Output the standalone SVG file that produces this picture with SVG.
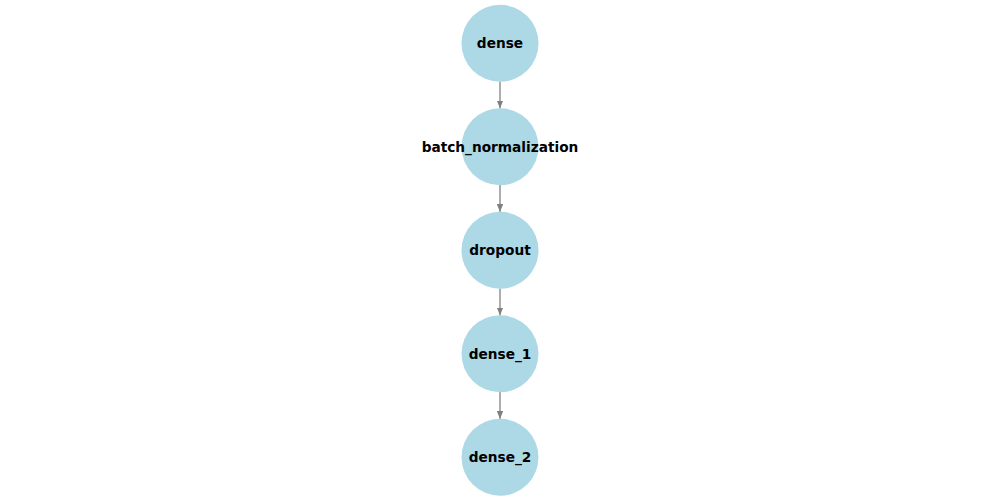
<svg xmlns="http://www.w3.org/2000/svg" width="1000" height="500" viewBox="0 0 1000 500">
<style>
.n{fill:#ADD8E6}
.t{font-family:"DejaVu Sans",sans-serif;font-weight:bold;font-size:13.7px;fill:#000;text-anchor:middle;dominant-baseline:central}
.e{stroke:#808080;stroke-width:1.3;fill:none}
</style>
<defs>
<marker id="a" viewBox="0 0 10 8" refX="10" refY="4" markerWidth="8" markerHeight="6.4" markerUnits="userSpaceOnUse" orient="auto">
<path d="M0,0 L10,4 L0,8 z" fill="#808080"/>
</marker>
</defs>
<rect width="1000" height="500" fill="#fff"/>
<g id="edges">
<line class="e" x1="500" y1="81.5" x2="500" y2="108.5" marker-end="url(#a)"/>
<line class="e" x1="500" y1="185" x2="500" y2="212" marker-end="url(#a)"/>
<line class="e" x1="500" y1="288.5" x2="500" y2="315.5" marker-end="url(#a)"/>
<line class="e" x1="500" y1="392" x2="500" y2="419" marker-end="url(#a)"/>
</g>
<g id="dense"><circle class="n" cx="500" cy="43.3" r="38.5"/><text class="t" x="500" y="43.3">dense</text></g>
<g id="batch_normalization"><circle class="n" cx="500" cy="146.8" r="38.5"/><text class="t" x="500" y="146.8">batch_normalization</text></g>
<g id="dropout"><circle class="n" cx="500" cy="250.3" r="38.5"/><text class="t" x="500" y="250.3">dropout</text></g>
<g id="dense_1"><circle class="n" cx="500" cy="353.8" r="38.5"/><text class="t" x="500" y="353.8">dense_1</text></g>
<g id="dense_2"><circle class="n" cx="500" cy="457.3" r="38.5"/><text class="t" x="500" y="457.3">dense_2</text></g>
</svg>
